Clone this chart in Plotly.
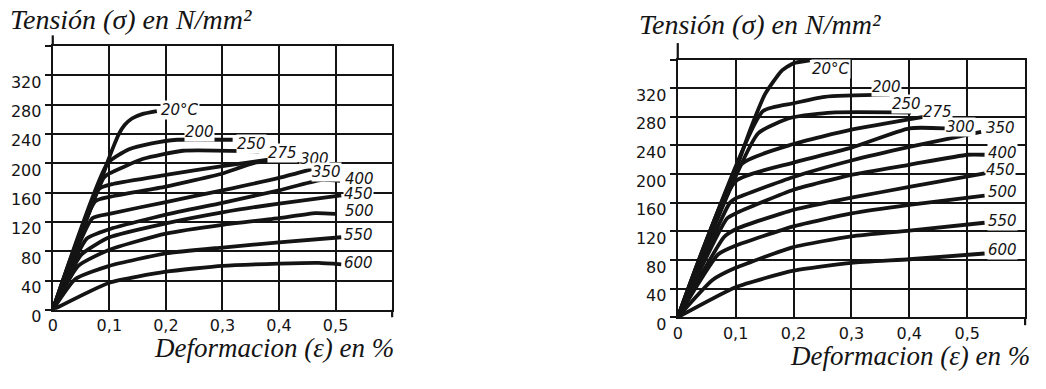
import plotly.graph_objects as go

# ---------------- DATA ----------------
temps = ["20°C", "200", "250", "275", "300", "350", "400", "450", "500", "550", "600"]

# Left chart (strain %, stress N/mm2)
L_T20_x = [0, 0.08, 0.097, 0.108, 0.117, 0.127, 0.14, 0.158, 0.184]
L_T20_y = [0, 165, 202, 224, 240, 252, 261, 267, 271]
L_T200_x = [0, 0.097, 0.135, 0.175, 0.22, 0.318]
L_T200_y = [0, 200, 219, 227, 232, 232]
L_T250_x = [0, 0.09, 0.1, 0.16, 0.23, 0.365]
L_T250_y = [0, 180, 186, 206, 217, 216]
L_T275_x = [0, 0.082, 0.108, 0.2, 0.3, 0.4]
L_T275_y = [0, 165, 172, 184, 196, 207]
L_T300_x = [0, 0.075, 0.1, 0.2, 0.3, 0.36, 0.43]
L_T300_y = [0, 148, 154, 168, 186, 201, 202]
L_T350_x = [0, 0.07, 0.1, 0.2, 0.3, 0.4, 0.458]
L_T350_y = [0, 125, 131, 147, 163, 180, 192]
L_T400_x = [0, 0.06, 0.1, 0.2, 0.3, 0.4, 0.473, 0.508]
L_T400_y = [0, 97, 110, 130, 146, 163, 177, 176]
L_T450_x = [0, 0.05, 0.1, 0.2, 0.3, 0.4, 0.51]
L_T450_y = [0, 75, 99, 118, 133, 145, 156]
L_T500_x = [0, 0.045, 0.1, 0.2, 0.3, 0.4, 0.464, 0.5]
L_T500_y = [0, 60, 82, 104, 116, 125, 132, 131]
L_T550_x = [0, 0.04, 0.1, 0.2, 0.3, 0.4, 0.51]
L_T550_y = [0, 42, 60, 77, 85, 92, 99]
L_T600_x = [0, 0.1, 0.2, 0.3, 0.4, 0.47, 0.51]
L_T600_y = [0, 37, 52, 60, 63, 64, 62]

# Right chart
R_T20_x = [0, 0.06, 0.093, 0.11, 0.128, 0.151, 0.179, 0.2, 0.228]
R_T20_y = [0, 122, 188, 228, 268, 312, 344, 355, 359]
R_T200_x = [0, 0.147, 0.2, 0.254, 0.366]
R_T200_y = [0, 288, 299, 308, 311]
R_T250_x = [0, 0.139, 0.197, 0.266, 0.403]
R_T250_y = [0, 257, 279, 286, 286]
R_T275_x = [0, 0.11, 0.2, 0.3, 0.432]
R_T275_y = [0, 214, 242, 262, 281]
R_T300_x = [0, 0.1, 0.2, 0.3, 0.4, 0.461]
R_T300_y = [0, 190, 216, 237, 264, 264]
R_T350_x = [0, 0.09, 0.1, 0.2, 0.3, 0.4, 0.524]
R_T350_y = [0, 160, 166, 196, 219, 238, 259]
R_T400_x = [0, 0.085, 0.1, 0.2, 0.3, 0.4, 0.501, 0.53]
R_T400_y = [0, 138, 145, 178, 199, 213, 227, 227]
R_T450_x = [0, 0.08, 0.1, 0.2, 0.3, 0.4, 0.53]
R_T450_y = [0, 112, 123, 150, 167, 182, 201]
R_T500_x = [0, 0.07, 0.1, 0.2, 0.3, 0.4, 0.53]
R_T500_y = [0, 88, 100, 127, 145, 157, 170]
R_T550_x = [0, 0.06, 0.1, 0.2, 0.3, 0.4, 0.53]
R_T550_y = [0, 52, 69, 98, 113, 121, 132]
R_T600_x = [0, 0.1, 0.2, 0.3, 0.4, 0.53]
R_T600_y = [0, 42, 65, 76, 81, 89]

x_tickvals = [0, 0.1, 0.2, 0.3, 0.4, 0.5]
x_ticktext = ["0", "0,1", "0,2", "0,3", "0,4", "0,5"]
y_tickvals = [0, 40, 80, 120, 160, 200, 240, 280, 320, 360]
y_ticktext = ["0", "40", "80", "120", "160", "200", "240", "280", "320", ""]

y_title = "Tensión (σ) en N/mm²"
x_title = "Deformacion (ε) en %"

left_curves = [(L_T20_x, L_T20_y), (L_T200_x, L_T200_y), (L_T250_x, L_T250_y),
               (L_T275_x, L_T275_y), (L_T300_x, L_T300_y), (L_T350_x, L_T350_y),
               (L_T400_x, L_T400_y), (L_T450_x, L_T450_y), (L_T500_x, L_T500_y),
               (L_T550_x, L_T550_y), (L_T600_x, L_T600_y)]
right_curves = [(R_T20_x, R_T20_y), (R_T200_x, R_T200_y), (R_T250_x, R_T250_y),
                (R_T275_x, R_T275_y), (R_T300_x, R_T300_y), (R_T350_x, R_T350_y),
                (R_T400_x, R_T400_y), (R_T450_x, R_T450_y), (R_T500_x, R_T500_y),
                (R_T550_x, R_T550_y), (R_T600_x, R_T600_y)]

# label offsets (pixels, from curve end) - style only
left_offsets = [(23, 1), (-33, 8), (-8, 7), (3, 5), (19, 3), (15, -3),
                (19, 2), (17, 1), (24, 3), (17, 2), (17, 1)]
right_offsets = [(21, -9), (-3, 8), (-5, 9), (10, 4), (16, 1), (19, 4),
                 (18, 2), (16, 3), (18, 4), (18, 2), (18, 4)]

INK = "#141414"
fig = go.Figure()

for (cx, cy) in left_curves:
    fig.add_trace(go.Scatter(x=cx, y=cy, mode="lines", xaxis="x", yaxis="y",
                             line=dict(color=INK, width=3.8, shape="spline", smoothing=0.5),
                             hoverinfo="skip"))
for (cx, cy) in right_curves:
    fig.add_trace(go.Scatter(x=cx, y=cy, mode="lines", xaxis="x2", yaxis="y2",
                             line=dict(color=INK, width=3.8, shape="spline", smoothing=0.5),
                             hoverinfo="skip"))

annotations = []
lab_font = dict(family="DejaVu Sans", size=15, color=INK, style="italic")
for name, (cx, cy), (dx, dy) in zip(temps, left_curves, left_offsets):
    annotations.append(dict(x=cx[-1], y=cy[-1], xref="x", yref="y", text=name,
                            showarrow=False, xshift=dx, yshift=dy, font=lab_font,
                            bgcolor="white", borderpad=0))
for name, (cx, cy), (dx, dy) in zip(temps, right_curves, right_offsets):
    annotations.append(dict(x=cx[-1], y=cy[-1], xref="x2", yref="y2", text=name,
                            showarrow=False, xshift=dx, yshift=dy, font=lab_font,
                            bgcolor="white", borderpad=0))

ytitle_font = dict(family="Liberation Serif", size=28, color=INK, style="italic")
xtitle_font = dict(family="Liberation Serif", size=27, color=INK, style="italic")
annotations += [
    dict(x=3 / 1046, y=1 - 20 / 389, xref="paper", yref="paper", text=y_title,
         xanchor="left", yanchor="middle", align="left", showarrow=False, font=ytitle_font),
    dict(x=635 / 1046, y=1 - 26 / 389, xref="paper", yref="paper", text=y_title,
         xanchor="left", yanchor="middle", align="left", showarrow=False, font=ytitle_font),
    dict(x=148 / 1046, y=1 - 364 / 389, xref="paper", yref="paper", text=x_title,
         xanchor="left", yanchor="middle", align="left", showarrow=False, font=xtitle_font),
    dict(x=787 / 1046, y=1 - 372 / 389, xref="paper", yref="paper", text=x_title,
         xanchor="left", yanchor="middle", align="left", showarrow=False, font=xtitle_font),
]

tick_font = dict(family="DejaVu Sans", size=16, color=INK)

def xax(domain):
    return dict(domain=domain, range=[0, 0.6], tickvals=x_tickvals, ticktext=x_ticktext,
                showgrid=True, gridcolor=INK, gridwidth=1.6, showline=True, linecolor=INK,
                linewidth=2.2, mirror=True, ticks="", zeroline=False, tickfont=tick_font,
                ticklabelstandoff=0, fixedrange=True)

def yax(domain, anchor):
    return dict(domain=domain, range=[0, 360], tickvals=y_tickvals, ticktext=y_ticktext,
                anchor=anchor, showgrid=True, gridcolor=INK, gridwidth=1.6, showline=True,
                linecolor=INK, linewidth=2.2, mirror=True, ticks="outside", ticklen=6,
                tickwidth=1.6, tickcolor=INK, zeroline=False, tickfont=tick_font,
                ticklabelshift=7, ticklabelstandoff=0, fixedrange=True)

shapes = [
    dict(type="line", xref="x domain", yref="y domain", x0=0, x1=0, y0=1, y1=1.04,
         line=dict(color=INK, width=2.2)),
    dict(type="line", xref="x domain", yref="y domain", x0=1, x1=1, y0=0, y1=-0.028,
         line=dict(color=INK, width=2.2)),
    dict(type="line", xref="x2 domain", yref="y2 domain", x0=0, x1=0, y0=1, y1=1.064,
         line=dict(color=INK, width=2.2)),
    dict(type="line", xref="x2 domain", yref="y2 domain", x0=1, x1=1, y0=0, y1=-0.031,
         line=dict(color=INK, width=2.2)),
]

fig.update_layout(
    width=1046, height=389, margin=dict(l=0, r=0, t=0, b=0),
    paper_bgcolor="white", plot_bgcolor="white", showlegend=False,
    xaxis=dict(xax([48 / 1046, 389 / 1046]), anchor="y"),
    yaxis=yax([1 - 324 / 389, 1 - 48 / 389], "x"),
    xaxis2=dict(xax([676 / 1046, 1025 / 1046]), anchor="y2"),
    yaxis2=yax([1 - 331.7 / 389, 1 - 62.3 / 389], "x2"),
    annotations=annotations, shapes=shapes,
)

fig.write_html("out.html", config={"displayModeBar": False},
               post_script="document.body.style.margin='0';document.body.style.overflow='hidden';")
